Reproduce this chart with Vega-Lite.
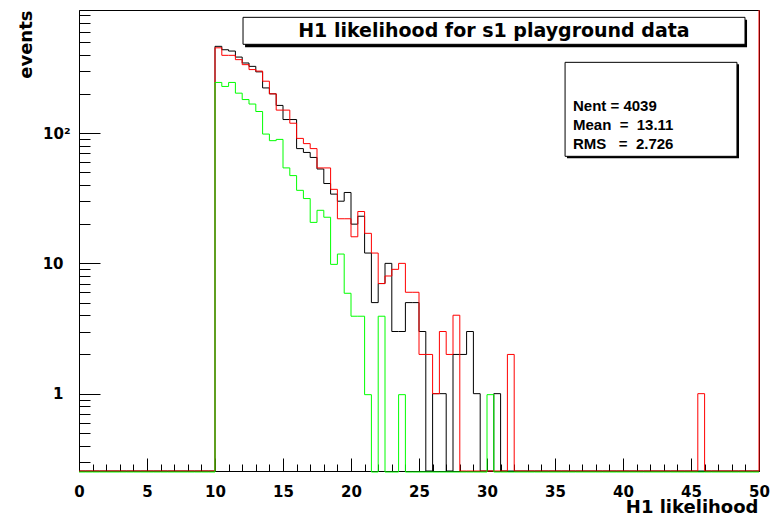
{
  "$schema": "https://vega.github.io/schema/vega-lite/v6.json",
  "width": 680,
  "height": 461,
  "autosize": "none",
  "padding": {"left": 79, "top": 10, "right": 23, "bottom": 44},
  "background": "white",
  "config": {
    "view": {"stroke": "#000", "strokeWidth": 1},
    "font": "DejaVu Sans",
    "axis": {"domainColor": "#000", "labelColor": "#000", "titleColor": "#000", "ticks": false, "tickSize": 0, "grid": true, "gridColor": "#000", "gridOpacity": 1, "gridWidth": 1, "labelOverlap": false, "labelBound": false, "labelFlush": false}
  },
  "data": {"values": [
    {"x":0,"b":0,"r":0,"g":0},{"x":0.5,"b":0,"r":0,"g":0},{"x":1,"b":0,"r":0,"g":0},{"x":1.5,"b":0,"r":0,"g":0},
    {"x":2,"b":0,"r":0,"g":0},{"x":2.5,"b":0,"r":0,"g":0},{"x":3,"b":0,"r":0,"g":0},{"x":3.5,"b":0,"r":0,"g":0},
    {"x":4,"b":0,"r":0,"g":0},{"x":4.5,"b":0,"r":0,"g":0},{"x":5,"b":0,"r":0,"g":0},{"x":5.5,"b":0,"r":0,"g":0},
    {"x":6,"b":0,"r":0,"g":0},{"x":6.5,"b":0,"r":0,"g":0},{"x":7,"b":0,"r":0,"g":0},{"x":7.5,"b":0,"r":0,"g":0},
    {"x":8,"b":0,"r":0,"g":0},{"x":8.5,"b":0,"r":0,"g":0},{"x":9,"b":0,"r":0,"g":0},{"x":9.5,"b":0,"r":0,"g":0},
    {"x":10,"b":463,"r":451,"g":249},{"x":10.5,"b":436,"r":395,"g":232},{"x":11,"b":426,"r":395,"g":249},{"x":11.5,"b":383,"r":366,"g":206},
    {"x":12,"b":345,"r":335,"g":184},{"x":12.5,"b":325,"r":307,"g":170},{"x":13,"b":295,"r":299,"g":149},{"x":13.5,"b":222,"r":250,"g":100},
    {"x":14,"b":200,"r":200,"g":89},{"x":14.5,"b":163,"r":150,"g":91},{"x":15,"b":127,"r":150,"g":55},{"x":15.5,"b":127,"r":119,"g":48},
    {"x":16,"b":76,"r":91,"g":37},{"x":16.5,"b":71,"r":83,"g":32},{"x":17,"b":65,"r":76,"g":21},{"x":17.5,"b":53,"r":54,"g":26},
    {"x":18,"b":41,"r":54,"g":23},{"x":18.5,"b":34,"r":37,"g":10},{"x":19,"b":30,"r":22,"g":12},{"x":19.5,"b":35,"r":22,"g":6},
    {"x":20,"b":20,"r":16,"g":4},{"x":20.5,"b":23,"r":25,"g":4},{"x":21,"b":12,"r":17,"g":1},{"x":21.5,"b":5,"r":12,"g":0},
    {"x":22,"b":7,"r":7,"g":4},{"x":22.5,"b":10,"r":8,"g":0},{"x":23,"b":3,"r":9,"g":0},{"x":23.5,"b":3,"r":10,"g":1},
    {"x":24,"b":5,"r":6,"g":0},{"x":24.5,"b":5,"r":6,"g":0},{"x":25,"b":3,"r":2,"g":0},{"x":25.5,"b":0,"r":2,"g":0},
    {"x":26,"b":1,"r":1,"g":0},{"x":26.5,"b":1,"r":3,"g":0},{"x":27,"b":0,"r":2,"g":0},{"x":27.5,"b":2,"r":4,"g":0},
    {"x":28,"b":2,"r":0,"g":0},{"x":28.5,"b":3,"r":0,"g":0},{"x":29,"b":1,"r":0,"g":0},{"x":29.5,"b":0,"r":0,"g":0},
    {"x":30,"b":0,"r":0,"g":1},{"x":30.5,"b":1,"r":0,"g":0},{"x":31,"b":0,"r":0,"g":0},{"x":31.5,"b":0,"r":2,"g":0},
    {"x":32,"b":0,"r":0,"g":0},{"x":32.5,"b":0,"r":0,"g":0},{"x":33,"b":0,"r":0,"g":0},{"x":33.5,"b":0,"r":0,"g":0},
    {"x":34,"b":0,"r":0,"g":0},{"x":34.5,"b":0,"r":0,"g":0},{"x":35,"b":0,"r":0,"g":0},{"x":35.5,"b":0,"r":0,"g":0},
    {"x":36,"b":0,"r":0,"g":0},{"x":36.5,"b":0,"r":0,"g":0},{"x":37,"b":0,"r":0,"g":0},{"x":37.5,"b":0,"r":0,"g":0},
    {"x":38,"b":0,"r":0,"g":0},{"x":38.5,"b":0,"r":0,"g":0},{"x":39,"b":0,"r":0,"g":0},{"x":39.5,"b":0,"r":0,"g":0},
    {"x":40,"b":0,"r":0,"g":0},{"x":40.5,"b":0,"r":0,"g":0},{"x":41,"b":0,"r":0,"g":0},{"x":41.5,"b":0,"r":0,"g":0},
    {"x":42,"b":0,"r":0,"g":0},{"x":42.5,"b":0,"r":0,"g":0},{"x":43,"b":0,"r":0,"g":0},{"x":43.5,"b":0,"r":0,"g":0},
    {"x":44,"b":0,"r":0,"g":0},{"x":44.5,"b":0,"r":0,"g":0},{"x":45,"b":0,"r":0,"g":0},{"x":45.5,"b":0,"r":1,"g":0},
    {"x":46,"b":0,"r":0,"g":0},{"x":46.5,"b":0,"r":0,"g":0},{"x":47,"b":0,"r":0,"g":0},{"x":47.5,"b":0,"r":0,"g":0},
    {"x":48,"b":0,"r":0,"g":0},{"x":48.5,"b":0,"r":0,"g":0},{"x":49,"b":0,"r":0,"g":0},{"x":49.5,"b":0,"r":0,"g":0},
    {"x":50,"b":0,"r":0,"g":0}
  ]},
  "layer": [
    {
      "mark": {"type": "line", "interpolate": "step-after", "color": "#000000", "strokeWidth": 1},
      "encoding": {
        "x": {"field": "x", "type": "quantitative", "scale": {"domain": [0, 50], "nice": false, "zero": false},
          "axis": {"values": [0,1,2,3,4,5,6,7,8,9,10,11,12,13,14,15,16,17,18,19,20,21,22,23,24,25,26,27,28,29,30,31,32,33,34,35,36,37,38,39,40,41,42,43,44,45,46,47,48,49,50], "labelExpr": "datum.value % 5 === 0 ? datum.label : ''", "labelFont": "DejaVu Sans", "labelFontWeight": "bold", "labelFontSize": 15, "labelBaseline": "top", "labelPadding": 13, "labelFlush": false, "labelOverlap": false, "ticks": false, "tickSize": 0, "grid": true, "gridColor": "#000", "gridOpacity": 1, "gridWidth": 1, "gridDash": {"condition": {"test": "datum.value % 5 === 0", "value": [13, 1000]}, "value": [7, 1000]}, "gridDashOffset": {"condition": {"test": "datum.value % 5 === 0", "value": 565}, "value": 553}, "title": "H1 likelihood", "titleFont": "DejaVu Sans", "titleFontWeight": "bold", "titleFontSize": 18, "titleAnchor": null, "titleAlign": "right", "titleBaseline": "alphabetic", "titleX": 679, "titleY": 41}},
        "y": {"field": "b", "type": "quantitative", "scale": {"type": "log", "domain": [0.255, 880], "clamp": true, "nice": false},
          "axis": {"values": [0.3,0.4,0.5,0.6,0.7,0.8,0.9,1,2,3,4,5,6,7,8,9,10,20,30,40,50,60,70,80,90,100,200,300,400,500,600,700,800], "labelExpr": "datum.value == 1 ? '1' : datum.value == 10 ? '10' : datum.value == 100 ? '10²' : ''", "labelFont": "DejaVu Sans", "labelFontWeight": "bold", "labelFontSize": 15, "labelAlign": "right", "labelBaseline": "middle", "labelOverlap": false, "labelFlush": false, "labelPadding": {"condition": {"test": "datum.value == 100", "value": 9}, "value": 16}, "ticks": false, "tickSize": 0, "grid": true, "gridColor": "#000", "gridOpacity": 1, "gridWidth": 1, "gridDash": {"condition": {"test": "datum.value == 1 || datum.value == 10 || datum.value == 100", "value": [21, 1000]}, "value": [11, 1000]}, "title": "events", "titleFont": "DejaVu Sans", "titleFontWeight": "bold", "titleFontSize": 18, "titleAngle": -90, "titleAnchor": null, "titleAlign": "right", "titleBaseline": "middle", "titleX": -53, "titleY": 0}}
      }
    },
    {
      "mark": {"type": "line", "interpolate": "step-after", "color": "#ff0000", "strokeWidth": 1},
      "encoding": {
        "x": {"field": "x", "type": "quantitative",
          "axis": {"values": [0,1,2,3,4,5,6,7,8,9,10,11,12,13,14,15,16,17,18,19,20,21,22,23,24,25,26,27,28,29,30,31,32,33,34,35,36,37,38,39,40,41,42,43,44,45,46,47,48,49,50], "labelExpr": "datum.value % 5 === 0 ? datum.label : ''", "labelFont": "DejaVu Sans", "labelFontWeight": "bold", "labelFontSize": 15, "labelBaseline": "top", "labelPadding": 13, "labelFlush": false, "labelOverlap": false, "ticks": false, "tickSize": 0, "grid": true, "gridColor": "#000", "gridOpacity": 1, "gridWidth": 1, "gridDash": {"condition": {"test": "datum.value % 5 === 0", "value": [13, 1000]}, "value": [7, 1000]}, "gridDashOffset": {"condition": {"test": "datum.value % 5 === 0", "value": 565}, "value": 553}, "title": "H1 likelihood", "titleFont": "DejaVu Sans", "titleFontWeight": "bold", "titleFontSize": 18, "titleAnchor": null, "titleAlign": "right", "titleBaseline": "alphabetic", "titleX": 679, "titleY": 41}},
        "y": {"field": "r", "type": "quantitative",
          "axis": {"values": [0.3,0.4,0.5,0.6,0.7,0.8,0.9,1,2,3,4,5,6,7,8,9,10,20,30,40,50,60,70,80,90,100,200,300,400,500,600,700,800], "labelExpr": "datum.value == 1 ? '1' : datum.value == 10 ? '10' : datum.value == 100 ? '10²' : ''", "labelFont": "DejaVu Sans", "labelFontWeight": "bold", "labelFontSize": 15, "labelAlign": "right", "labelBaseline": "middle", "labelOverlap": false, "labelFlush": false, "labelPadding": {"condition": {"test": "datum.value == 100", "value": 9}, "value": 16}, "ticks": false, "tickSize": 0, "grid": true, "gridColor": "#000", "gridOpacity": 1, "gridWidth": 1, "gridDash": {"condition": {"test": "datum.value == 1 || datum.value == 10 || datum.value == 100", "value": [21, 1000]}, "value": [11, 1000]}, "title": "events", "titleFont": "DejaVu Sans", "titleFontWeight": "bold", "titleFontSize": 18, "titleAngle": -90, "titleAnchor": null, "titleAlign": "right", "titleBaseline": "middle", "titleX": -53, "titleY": 0}}
      }
    },
    {
      "mark": {"type": "line", "interpolate": "step-after", "color": "#00ff00", "strokeWidth": 1, "yOffset": 1},
      "encoding": {
        "x": {"field": "x", "type": "quantitative",
          "axis": {"values": [0,1,2,3,4,5,6,7,8,9,10,11,12,13,14,15,16,17,18,19,20,21,22,23,24,25,26,27,28,29,30,31,32,33,34,35,36,37,38,39,40,41,42,43,44,45,46,47,48,49,50], "labelExpr": "datum.value % 5 === 0 ? datum.label : ''", "labelFont": "DejaVu Sans", "labelFontWeight": "bold", "labelFontSize": 15, "labelBaseline": "top", "labelPadding": 13, "labelFlush": false, "labelOverlap": false, "ticks": false, "tickSize": 0, "grid": true, "gridColor": "#000", "gridOpacity": 1, "gridWidth": 1, "gridDash": {"condition": {"test": "datum.value % 5 === 0", "value": [13, 1000]}, "value": [7, 1000]}, "gridDashOffset": {"condition": {"test": "datum.value % 5 === 0", "value": 565}, "value": 553}, "title": "H1 likelihood", "titleFont": "DejaVu Sans", "titleFontWeight": "bold", "titleFontSize": 18, "titleAnchor": null, "titleAlign": "right", "titleBaseline": "alphabetic", "titleX": 679, "titleY": 41}},
        "y": {"field": "g", "type": "quantitative",
          "axis": {"values": [0.3,0.4,0.5,0.6,0.7,0.8,0.9,1,2,3,4,5,6,7,8,9,10,20,30,40,50,60,70,80,90,100,200,300,400,500,600,700,800], "labelExpr": "datum.value == 1 ? '1' : datum.value == 10 ? '10' : datum.value == 100 ? '10²' : ''", "labelFont": "DejaVu Sans", "labelFontWeight": "bold", "labelFontSize": 15, "labelAlign": "right", "labelBaseline": "middle", "labelOverlap": false, "labelFlush": false, "labelPadding": {"condition": {"test": "datum.value == 100", "value": 9}, "value": 16}, "ticks": false, "tickSize": 0, "grid": true, "gridColor": "#000", "gridOpacity": 1, "gridWidth": 1, "gridDash": {"condition": {"test": "datum.value == 1 || datum.value == 10 || datum.value == 100", "value": [21, 1000]}, "value": [11, 1000]}, "title": "events", "titleFont": "DejaVu Sans", "titleFontWeight": "bold", "titleFontSize": 18, "titleAngle": -90, "titleAnchor": null, "titleAlign": "right", "titleBaseline": "middle", "titleX": -53, "titleY": 0}}
      }
    },
    {
      "data": {"values": [{}]},
      "mark": {"type": "rule", "color": "#ff0000", "strokeWidth": 1},
      "encoding": {"x": {"datum": 50, "type": "quantitative",
          "axis": {"values": [0,1,2,3,4,5,6,7,8,9,10,11,12,13,14,15,16,17,18,19,20,21,22,23,24,25,26,27,28,29,30,31,32,33,34,35,36,37,38,39,40,41,42,43,44,45,46,47,48,49,50], "labelExpr": "datum.value % 5 === 0 ? datum.label : ''", "labelFont": "DejaVu Sans", "labelFontWeight": "bold", "labelFontSize": 15, "labelBaseline": "top", "labelPadding": 13, "labelFlush": false, "labelOverlap": false, "ticks": false, "tickSize": 0, "grid": true, "gridColor": "#000", "gridOpacity": 1, "gridWidth": 1, "gridDash": {"condition": {"test": "datum.value % 5 === 0", "value": [13, 1000]}, "value": [7, 1000]}, "gridDashOffset": {"condition": {"test": "datum.value % 5 === 0", "value": 565}, "value": 553}, "title": "H1 likelihood", "titleFont": "DejaVu Sans", "titleFontWeight": "bold", "titleFontSize": 18, "titleAnchor": null, "titleAlign": "right", "titleBaseline": "alphabetic", "titleX": 679, "titleY": 41}}}
    },
    {
      "data": {"values": [{}]},
      "mark": {"type": "rect", "fill": "#000"},
      "encoding": {
        "x": {"datum": 12.21, "type": "quantitative",
          "axis": {"values": [0,1,2,3,4,5,6,7,8,9,10,11,12,13,14,15,16,17,18,19,20,21,22,23,24,25,26,27,28,29,30,31,32,33,34,35,36,37,38,39,40,41,42,43,44,45,46,47,48,49,50], "labelExpr": "datum.value % 5 === 0 ? datum.label : ''", "labelFont": "DejaVu Sans", "labelFontWeight": "bold", "labelFontSize": 15, "labelBaseline": "top", "labelPadding": 13, "labelFlush": false, "labelOverlap": false, "ticks": false, "tickSize": 0, "grid": true, "gridColor": "#000", "gridOpacity": 1, "gridWidth": 1, "gridDash": {"condition": {"test": "datum.value % 5 === 0", "value": [13, 1000]}, "value": [7, 1000]}, "gridDashOffset": {"condition": {"test": "datum.value % 5 === 0", "value": 565}, "value": 553}, "title": "H1 likelihood", "titleFont": "DejaVu Sans", "titleFontWeight": "bold", "titleFontSize": 18, "titleAnchor": null, "titleAlign": "right", "titleBaseline": "alphabetic", "titleX": 679, "titleY": 41}},
        "x2": {"datum": 49.12},
        "y": {"datum": 740, "type": "quantitative",
          "axis": {"values": [0.3,0.4,0.5,0.6,0.7,0.8,0.9,1,2,3,4,5,6,7,8,9,10,20,30,40,50,60,70,80,90,100,200,300,400,500,600,700,800], "labelExpr": "datum.value == 1 ? '1' : datum.value == 10 ? '10' : datum.value == 100 ? '10²' : ''", "labelFont": "DejaVu Sans", "labelFontWeight": "bold", "labelFontSize": 15, "labelAlign": "right", "labelBaseline": "middle", "labelOverlap": false, "labelFlush": false, "labelPadding": {"condition": {"test": "datum.value == 100", "value": 9}, "value": 16}, "ticks": false, "tickSize": 0, "grid": true, "gridColor": "#000", "gridOpacity": 1, "gridWidth": 1, "gridDash": {"condition": {"test": "datum.value == 1 || datum.value == 10 || datum.value == 100", "value": [21, 1000]}, "value": [11, 1000]}, "title": "events", "titleFont": "DejaVu Sans", "titleFontWeight": "bold", "titleFontSize": 18, "titleAngle": -90, "titleAnchor": null, "titleAlign": "right", "titleBaseline": "middle", "titleX": -53, "titleY": 0}},
        "y2": {"datum": 456}
      }
    },
    {
      "data": {"values": [{}]},
      "mark": {"type": "rect", "fill": "#fff", "stroke": "#000", "strokeWidth": 1},
      "encoding": {
        "x": {"datum": 12.06, "type": "quantitative",
          "axis": {"values": [0,1,2,3,4,5,6,7,8,9,10,11,12,13,14,15,16,17,18,19,20,21,22,23,24,25,26,27,28,29,30,31,32,33,34,35,36,37,38,39,40,41,42,43,44,45,46,47,48,49,50], "labelExpr": "datum.value % 5 === 0 ? datum.label : ''", "labelFont": "DejaVu Sans", "labelFontWeight": "bold", "labelFontSize": 15, "labelBaseline": "top", "labelPadding": 13, "labelFlush": false, "labelOverlap": false, "ticks": false, "tickSize": 0, "grid": true, "gridColor": "#000", "gridOpacity": 1, "gridWidth": 1, "gridDash": {"condition": {"test": "datum.value % 5 === 0", "value": [13, 1000]}, "value": [7, 1000]}, "gridDashOffset": {"condition": {"test": "datum.value % 5 === 0", "value": 565}, "value": 553}, "title": "H1 likelihood", "titleFont": "DejaVu Sans", "titleFontWeight": "bold", "titleFontSize": 18, "titleAnchor": null, "titleAlign": "right", "titleBaseline": "alphabetic", "titleX": 679, "titleY": 41}},
        "x2": {"datum": 48.97},
        "y": {"datum": 773, "type": "quantitative",
          "axis": {"values": [0.3,0.4,0.5,0.6,0.7,0.8,0.9,1,2,3,4,5,6,7,8,9,10,20,30,40,50,60,70,80,90,100,200,300,400,500,600,700,800], "labelExpr": "datum.value == 1 ? '1' : datum.value == 10 ? '10' : datum.value == 100 ? '10²' : ''", "labelFont": "DejaVu Sans", "labelFontWeight": "bold", "labelFontSize": 15, "labelAlign": "right", "labelBaseline": "middle", "labelOverlap": false, "labelFlush": false, "labelPadding": {"condition": {"test": "datum.value == 100", "value": 9}, "value": 16}, "ticks": false, "tickSize": 0, "grid": true, "gridColor": "#000", "gridOpacity": 1, "gridWidth": 1, "gridDash": {"condition": {"test": "datum.value == 1 || datum.value == 10 || datum.value == 100", "value": [21, 1000]}, "value": [11, 1000]}, "title": "events", "titleFont": "DejaVu Sans", "titleFontWeight": "bold", "titleFontSize": 18, "titleAngle": -90, "titleAnchor": null, "titleAlign": "right", "titleBaseline": "middle", "titleX": -53, "titleY": 0}},
        "y2": {"datum": 480}
      }
    },
    {
      "data": {"values": [{}]},
      "mark": {"type": "text", "text": "H1 likelihood for s1 playground data", "font": "DejaVu Sans", "fontWeight": "bold", "fontSize": 19, "align": "center", "baseline": "middle", "color": "#000"},
      "encoding": {
        "x": {"datum": 30.51, "type": "quantitative",
          "axis": {"values": [0,1,2,3,4,5,6,7,8,9,10,11,12,13,14,15,16,17,18,19,20,21,22,23,24,25,26,27,28,29,30,31,32,33,34,35,36,37,38,39,40,41,42,43,44,45,46,47,48,49,50], "labelExpr": "datum.value % 5 === 0 ? datum.label : ''", "labelFont": "DejaVu Sans", "labelFontWeight": "bold", "labelFontSize": 15, "labelBaseline": "top", "labelPadding": 13, "labelFlush": false, "labelOverlap": false, "ticks": false, "tickSize": 0, "grid": true, "gridColor": "#000", "gridOpacity": 1, "gridWidth": 1, "gridDash": {"condition": {"test": "datum.value % 5 === 0", "value": [13, 1000]}, "value": [7, 1000]}, "gridDashOffset": {"condition": {"test": "datum.value % 5 === 0", "value": 565}, "value": 553}, "title": "H1 likelihood", "titleFont": "DejaVu Sans", "titleFontWeight": "bold", "titleFontSize": 18, "titleAnchor": null, "titleAlign": "right", "titleBaseline": "alphabetic", "titleX": 679, "titleY": 41}},
        "y": {"datum": 603, "type": "quantitative",
          "axis": {"values": [0.3,0.4,0.5,0.6,0.7,0.8,0.9,1,2,3,4,5,6,7,8,9,10,20,30,40,50,60,70,80,90,100,200,300,400,500,600,700,800], "labelExpr": "datum.value == 1 ? '1' : datum.value == 10 ? '10' : datum.value == 100 ? '10²' : ''", "labelFont": "DejaVu Sans", "labelFontWeight": "bold", "labelFontSize": 15, "labelAlign": "right", "labelBaseline": "middle", "labelOverlap": false, "labelFlush": false, "labelPadding": {"condition": {"test": "datum.value == 100", "value": 9}, "value": 16}, "ticks": false, "tickSize": 0, "grid": true, "gridColor": "#000", "gridOpacity": 1, "gridWidth": 1, "gridDash": {"condition": {"test": "datum.value == 1 || datum.value == 10 || datum.value == 100", "value": [21, 1000]}, "value": [11, 1000]}, "title": "events", "titleFont": "DejaVu Sans", "titleFontWeight": "bold", "titleFontSize": 18, "titleAngle": -90, "titleAnchor": null, "titleAlign": "right", "titleBaseline": "middle", "titleX": -53, "titleY": 0}}
      }
    },
    {
      "data": {"values": [{}]},
      "mark": {"type": "rect", "fill": "#000"},
      "encoding": {
        "x": {"datum": 35.88, "type": "quantitative",
          "axis": {"values": [0,1,2,3,4,5,6,7,8,9,10,11,12,13,14,15,16,17,18,19,20,21,22,23,24,25,26,27,28,29,30,31,32,33,34,35,36,37,38,39,40,41,42,43,44,45,46,47,48,49,50], "labelExpr": "datum.value % 5 === 0 ? datum.label : ''", "labelFont": "DejaVu Sans", "labelFontWeight": "bold", "labelFontSize": 15, "labelBaseline": "top", "labelPadding": 13, "labelFlush": false, "labelOverlap": false, "ticks": false, "tickSize": 0, "grid": true, "gridColor": "#000", "gridOpacity": 1, "gridWidth": 1, "gridDash": {"condition": {"test": "datum.value % 5 === 0", "value": [13, 1000]}, "value": [7, 1000]}, "gridDashOffset": {"condition": {"test": "datum.value % 5 === 0", "value": 565}, "value": 553}, "title": "H1 likelihood", "titleFont": "DejaVu Sans", "titleFontWeight": "bold", "titleFontSize": 18, "titleAnchor": null, "titleAlign": "right", "titleBaseline": "alphabetic", "titleX": 679, "titleY": 41}},
        "x2": {"datum": 48.53},
        "y": {"datum": 337, "type": "quantitative",
          "axis": {"values": [0.3,0.4,0.5,0.6,0.7,0.8,0.9,1,2,3,4,5,6,7,8,9,10,20,30,40,50,60,70,80,90,100,200,300,400,500,600,700,800], "labelExpr": "datum.value == 1 ? '1' : datum.value == 10 ? '10' : datum.value == 100 ? '10²' : ''", "labelFont": "DejaVu Sans", "labelFontWeight": "bold", "labelFontSize": 15, "labelAlign": "right", "labelBaseline": "middle", "labelOverlap": false, "labelFlush": false, "labelPadding": {"condition": {"test": "datum.value == 100", "value": 9}, "value": 16}, "ticks": false, "tickSize": 0, "grid": true, "gridColor": "#000", "gridOpacity": 1, "gridWidth": 1, "gridDash": {"condition": {"test": "datum.value == 1 || datum.value == 10 || datum.value == 100", "value": [21, 1000]}, "value": [11, 1000]}, "title": "events", "titleFont": "DejaVu Sans", "titleFontWeight": "bold", "titleFontSize": 18, "titleAngle": -90, "titleAnchor": null, "titleAlign": "right", "titleBaseline": "middle", "titleX": -53, "titleY": 0}},
        "y2": {"datum": 64}
      }
    },
    {
      "data": {"values": [{}]},
      "mark": {"type": "rect", "fill": "#fff", "stroke": "#000", "strokeWidth": 1},
      "encoding": {
        "x": {"datum": 35.74, "type": "quantitative",
          "axis": {"values": [0,1,2,3,4,5,6,7,8,9,10,11,12,13,14,15,16,17,18,19,20,21,22,23,24,25,26,27,28,29,30,31,32,33,34,35,36,37,38,39,40,41,42,43,44,45,46,47,48,49,50], "labelExpr": "datum.value % 5 === 0 ? datum.label : ''", "labelFont": "DejaVu Sans", "labelFontWeight": "bold", "labelFontSize": 15, "labelBaseline": "top", "labelPadding": 13, "labelFlush": false, "labelOverlap": false, "ticks": false, "tickSize": 0, "grid": true, "gridColor": "#000", "gridOpacity": 1, "gridWidth": 1, "gridDash": {"condition": {"test": "datum.value % 5 === 0", "value": [13, 1000]}, "value": [7, 1000]}, "gridDashOffset": {"condition": {"test": "datum.value % 5 === 0", "value": 565}, "value": 553}, "title": "H1 likelihood", "titleFont": "DejaVu Sans", "titleFontWeight": "bold", "titleFontSize": 18, "titleAnchor": null, "titleAlign": "right", "titleBaseline": "alphabetic", "titleX": 679, "titleY": 41}},
        "x2": {"datum": 48.38},
        "y": {"datum": 349, "type": "quantitative",
          "axis": {"values": [0.3,0.4,0.5,0.6,0.7,0.8,0.9,1,2,3,4,5,6,7,8,9,10,20,30,40,50,60,70,80,90,100,200,300,400,500,600,700,800], "labelExpr": "datum.value == 1 ? '1' : datum.value == 10 ? '10' : datum.value == 100 ? '10²' : ''", "labelFont": "DejaVu Sans", "labelFontWeight": "bold", "labelFontSize": 15, "labelAlign": "right", "labelBaseline": "middle", "labelOverlap": false, "labelFlush": false, "labelPadding": {"condition": {"test": "datum.value == 100", "value": 9}, "value": 16}, "ticks": false, "tickSize": 0, "grid": true, "gridColor": "#000", "gridOpacity": 1, "gridWidth": 1, "gridDash": {"condition": {"test": "datum.value == 1 || datum.value == 10 || datum.value == 100", "value": [21, 1000]}, "value": [11, 1000]}, "title": "events", "titleFont": "DejaVu Sans", "titleFontWeight": "bold", "titleFontSize": 18, "titleAngle": -90, "titleAnchor": null, "titleAlign": "right", "titleBaseline": "middle", "titleX": -53, "titleY": 0}},
        "y2": {"datum": 66.3}
      }
    },
    {
      "data": {"values": [{}]},
      "mark": {"type": "text", "text": ["Nent = 4039", "Mean\u00a0\u00a0=\u00a0\u00a013.11", "RMS\u00a0\u00a0\u00a0=\u00a0\u00a02.726"], "lineHeight": 19, "font": "Liberation Sans", "fontWeight": "bold", "fontSize": 15, "align": "left", "baseline": "alphabetic", "color": "#000"},
      "encoding": {
        "x": {"datum": 36.32, "type": "quantitative",
          "axis": {"values": [0,1,2,3,4,5,6,7,8,9,10,11,12,13,14,15,16,17,18,19,20,21,22,23,24,25,26,27,28,29,30,31,32,33,34,35,36,37,38,39,40,41,42,43,44,45,46,47,48,49,50], "labelExpr": "datum.value % 5 === 0 ? datum.label : ''", "labelFont": "DejaVu Sans", "labelFontWeight": "bold", "labelFontSize": 15, "labelBaseline": "top", "labelPadding": 13, "labelFlush": false, "labelOverlap": false, "ticks": false, "tickSize": 0, "grid": true, "gridColor": "#000", "gridOpacity": 1, "gridWidth": 1, "gridDash": {"condition": {"test": "datum.value % 5 === 0", "value": [13, 1000]}, "value": [7, 1000]}, "gridDashOffset": {"condition": {"test": "datum.value % 5 === 0", "value": 565}, "value": 553}, "title": "H1 likelihood", "titleFont": "DejaVu Sans", "titleFontWeight": "bold", "titleFontSize": 18, "titleAnchor": null, "titleAlign": "right", "titleBaseline": "alphabetic", "titleX": 679, "titleY": 41}},
        "y": {"datum": 146.8, "type": "quantitative",
          "axis": {"values": [0.3,0.4,0.5,0.6,0.7,0.8,0.9,1,2,3,4,5,6,7,8,9,10,20,30,40,50,60,70,80,90,100,200,300,400,500,600,700,800], "labelExpr": "datum.value == 1 ? '1' : datum.value == 10 ? '10' : datum.value == 100 ? '10²' : ''", "labelFont": "DejaVu Sans", "labelFontWeight": "bold", "labelFontSize": 15, "labelAlign": "right", "labelBaseline": "middle", "labelOverlap": false, "labelFlush": false, "labelPadding": {"condition": {"test": "datum.value == 100", "value": 9}, "value": 16}, "ticks": false, "tickSize": 0, "grid": true, "gridColor": "#000", "gridOpacity": 1, "gridWidth": 1, "gridDash": {"condition": {"test": "datum.value == 1 || datum.value == 10 || datum.value == 100", "value": [21, 1000]}, "value": [11, 1000]}, "title": "events", "titleFont": "DejaVu Sans", "titleFontWeight": "bold", "titleFontSize": 18, "titleAngle": -90, "titleAnchor": null, "titleAlign": "right", "titleBaseline": "middle", "titleX": -53, "titleY": 0}}
      }
    }
  ]
}
